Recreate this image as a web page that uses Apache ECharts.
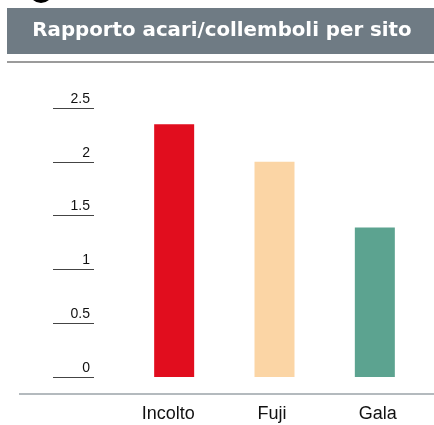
<!DOCTYPE html>
<html>
<head>
<meta charset="utf-8">
<script src="https://cdn.jsdelivr.net/npm/echarts@6/dist/echarts.min.js"></script>
<style>
  html, body { margin: 0; padding: 0; background: #fff; }
  #chart { width: 434px; height: 425px; }
</style>
</head>
<body>
<div id="chart"></div>
<script>
// data
const categories = ['Incolto', 'Fuji', 'Gala']
const ratios = [2.35, 2.0, 1.39]
const barColors = ['#e10d1e', '#fbd5a5', '#5ca390']
const yTicks = { min: 0, max: 2.5, interval: 0.5 }
const title = 'Rapporto acari/collemboli per sito'

// the category labels in the original sit a little off the bar centres
const labelPads = [[0, 12, 0, 0], [0, 5, 0, 0], [0, 0, 0, 6]]

const chart = echarts.init(document.getElementById('chart'))

chart.setOption({
  animation: false,
  textStyle: { fontFamily: 'Liberation Sans' },
  grid: [
    { left: 124, top: 108, width: 301, height: 269 },
    // narrow grid that only carries the short tick lines on the left
    { left: 53, top: 108, width: 41, height: 269 }
  ],
  xAxis: [{
    type: 'category',
    gridIndex: 0,
    data: categories.map((c, i) => ({ value: c, textStyle: { padding: labelPads[i] } })),
    axisLine: { show: false },
    axisTick: { show: false },
    axisLabel: { color: '#111', fontSize: 18, margin: 28 }
  }, {
    type: 'value',
    gridIndex: 1,
    show: false
  }],
  yAxis: [{
    type: 'value',
    gridIndex: 0,
    min: yTicks.min,
    max: yTicks.max,
    interval: yTicks.interval,
    show: false
  }, {
    type: 'value',
    gridIndex: 1,
    position: 'right',
    min: yTicks.min,
    max: yTicks.max,
    interval: yTicks.interval,
    axisLine: { show: false },
    axisTick: { show: false },
    splitLine: { show: true, lineStyle: { color: '#444', width: 1.2 } },
    axisLabel: {
      inside: true,
      color: '#111',
      fontSize: 14,
      margin: 4,
      verticalAlign: 'bottom',
      lineHeight: 18
    }
  }],
  series: [{
    type: 'bar',
    barWidth: 40,
    xAxisIndex: 0,
    yAxisIndex: 0,
    data: ratios.map((v, i) => ({ value: v, itemStyle: { color: barColors[i] } }))
  }],
  graphic: [
    { type: 'circle', shape: { cx: 41, cy: -9, r: 12 }, style: { fill: '#000' } },
    { type: 'rect', shape: { x: 7, y: 8, width: 427, height: 46 }, style: { fill: '#6f7b84' } },
    {
      type: 'text', x: 222, y: 31,
      style: {
        text: title, fill: '#fff', align: 'center', verticalAlign: 'middle',
        font: 'bold 19.8px "DejaVu Sans", sans-serif'
      }
    },
    { type: 'line', shape: { x1: 7, y1: 62, x2: 434, y2: 62 }, style: { stroke: '#7a7a7a', lineWidth: 1.5 } },
    { type: 'line', shape: { x1: 19, y1: 394, x2: 434, y2: 394 }, style: { stroke: '#9ba3a8', lineWidth: 1.5 } }
  ]
})
</script>
</body>
</html>
